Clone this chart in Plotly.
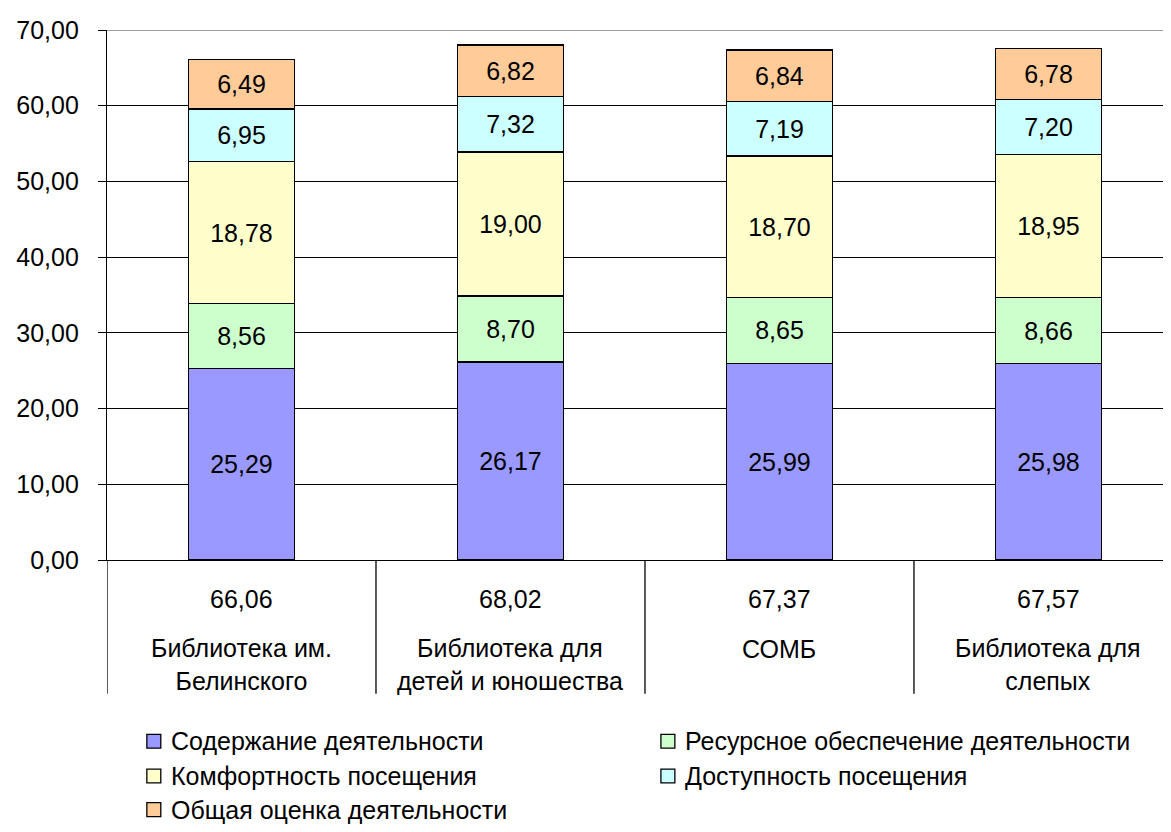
import plotly.graph_objects as go

categories = ["Библиотека им.<br>Белинского", "Библиотека для<br>детей и юношества", "СОМБ", "Библиотека для<br>слепых"]
series_names = ["Содержание деятельности", "Ресурсное обеспечение деятельности",
                "Комфортность посещения", "Доступность посещения", "Общая оценка деятельности"]
soderzhanie = [25.29, 26.17, 25.99, 25.98]
resursnoe = [8.56, 8.70, 8.65, 8.66]
komfortnost = [18.78, 19.00, 18.70, 18.95]
dostupnost = [6.95, 7.32, 7.19, 7.20]
obshchaya = [6.49, 6.82, 6.84, 6.78]
totals = [66.06, 68.02, 67.37, 67.57]
y_ticks = [0, 10, 20, 30, 40, 50, 60, 70]

colors = ["#9999FF", "#CCFFCC", "#FFFFCC", "#CCFFFF", "#FFCC99"]
series_values = [soderzhanie, resursnoe, komfortnost, dostupnost, obshchaya]

FONT = "Liberation Sans, Arial, sans-serif"
FS = 25
OFF = 8  # page body margin
W, H = 1171, 832
# desired plot area in window pixels
PL, PR, PT, PB = 103, 1171, 25, 560
L = PL - OFF
T = PT - OFF
R = W - (PR - OFF)
B = H - (PB - OFF)
PH = PB - PT
PW = PR - PL
xs = list(range(len(categories)))

fig = go.Figure()
for name, vals, col in zip(series_names, series_values, colors):
    fig.add_trace(go.Bar(
        x=xs, y=vals, name=name, width=107 / 270,
        marker=dict(color=col, line=dict(color="black", width=1.3)),
        texttemplate="%{y:.2f}", textposition="inside", insidetextanchor="middle",
        textangle=0, constraintext="none",
        textfont=dict(family=FONT, size=FS, color="black"),
        showlegend=False, hoverinfo="skip",
    ))

def py_win(ywin):
    # paper y for a window pixel y
    return (PB - ywin) / PH

def px_win(xwin):
    return (xwin - PL) / PW

shapes = []
annotations = []
# top border line (gray)
shapes.append(dict(type="line", xref="paper", yref="y", x0=0, x1=1, y0=70, y1=70,
                   line=dict(color="#808080", width=1.5), layer="above"))
# table separators
for b in [-0.5, 0.5, 1.5, 2.5, 3.5]:
    shapes.append(dict(type="line", xref="x", yref="paper", x0=b, x1=b, y0=0, y1=py_win(695),
                       line=dict(color="black", width=1.3)))
# totals and category labels
for i, (cat, tot) in enumerate(zip(categories, totals)):
    annotations.append(dict(x=i, y=py_win(599), xref="x", yref="paper", text=f"{tot:.2f}".replace(".", ","),
                            showarrow=False, yanchor="middle", font=dict(family=FONT, size=FS, color="black")))
    yy = py_win(665.5) if "<br>" in cat else py_win(650)
    annotations.append(dict(x=i, y=yy, xref="x", yref="paper", text=cat, showarrow=False,
                            yanchor="middle", align="center",
                            font=dict(family=FONT, size=FS, color="black")))

# manual legend (two columns, row-wise)
leg_rows = [743, 778, 812]
leg_cols = [143, 659]
for k, (name, col) in enumerate(zip(series_names, colors)):
    r, c = divmod(k, 2)
    cx, cy = leg_cols[c], leg_rows[r]
    shapes.append(dict(type="rect", xref="paper", yref="paper",
                       x0=px_win(cx), x1=px_win(cx + 14),
                       y0=py_win(cy + 7), y1=py_win(cy - 7),
                       fillcolor=col, line=dict(color="black", width=1.3)))
    annotations.append(dict(x=px_win(cx + 22), y=py_win(cy), xref="paper", yref="paper",
                            text=name, showarrow=False, xanchor="left", yanchor="middle",
                            font=dict(family=FONT, size=FS, color="black")))

fig.update_layout(
    width=W, height=H, barmode="stack", separators=", ",
    margin=dict(l=L, r=R, t=T, b=B, pad=0),
    plot_bgcolor="white", paper_bgcolor="white",
    shapes=shapes, annotations=annotations,
    font=dict(family=FONT, size=FS, color="black"),
    xaxis=dict(range=[-0.5, -0.5 + PW / 270], showticklabels=False, showgrid=False,
               zeroline=False, showline=True, linecolor="black", linewidth=1.3, ticks=""),
    yaxis=dict(range=[0, 70], tickvals=y_ticks, tickformat=".2f", showgrid=True,
               gridcolor="black", gridwidth=1.3, zeroline=False, showline=True,
               linecolor="black", linewidth=1.3, ticks="outside", ticklen=8, tickcolor="black",
               tickwidth=1.3, ticklabelstandoff=14,
               tickfont=dict(family=FONT, size=FS, color="black")),
)

fig.write_html("out.html")
